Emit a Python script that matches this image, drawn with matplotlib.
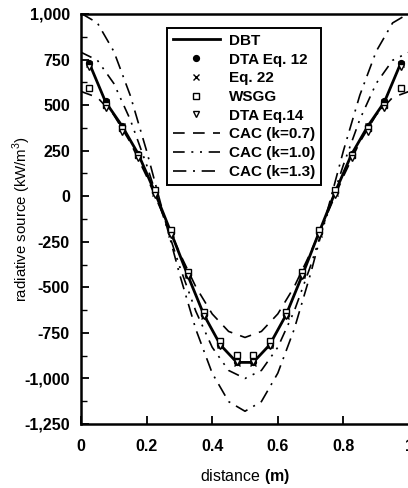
import matplotlib
matplotlib.use("Agg")
import matplotlib.pyplot as plt
from matplotlib.ticker import FixedLocator, MultipleLocator

plt.rcParams['font.family'] = ['Liberation Sans', 'DejaVu Sans']
plt.rcParams['mathtext.fontset'] = 'custom'
plt.rcParams['mathtext.rm'] = 'Liberation Sans'
plt.rcParams['mathtext.bf'] = 'Liberation Sans:bold'

# ---- data ----
x_pts = [0.025, 0.075, 0.125, 0.175, 0.225, 0.275, 0.325, 0.375, 0.425, 0.475,
         0.525, 0.575, 0.625, 0.675, 0.725, 0.775, 0.825, 0.875, 0.925, 0.975]
dbt = [731, 517, 386, 230, 23, -202, -432, -652, -816, -912,
       -912, -816, -652, -432, -202, 23, 230, 386, 517, 731]
dta12 = [731, 520, 388, 232, 25, -200, -430, -650, -815, -910,
         -910, -815, -650, -430, -200, 25, 232, 388, 520, 731]
eq22 = [725, 515, 385, 228, 20, -205, -435, -655, -818, -913,
        -913, -818, -655, -435, -205, 20, 228, 385, 515, 725]
wsgg = [594, 500, 375, 225, 36, -185, -418, -635, -795, -871,
        -871, -795, -635, -418, -185, 36, 225, 375, 500, 594]
dta14 = [709, 484, 352, 210, 7, -215, -440, -660, -820, -908,
         -908, -820, -660, -440, -215, 7, 210, 352, 484, 709]

x_cac = [0.0, 0.05, 0.1, 0.15, 0.2, 0.25, 0.3, 0.35, 0.4, 0.45, 0.5,
         0.55, 0.6, 0.65, 0.7, 0.75, 0.8, 0.85, 0.9, 0.95, 1.0]
cac07 = [575, 542, 446, 297, 109, -100, -309, -497, -646, -742, -775,
         -742, -646, -497, -309, -100, 109, 297, 446, 542, 575]
cac10 = [790, 746, 619, 421, 172, -105, -382, -631, -829, -956, -1000,
         -956, -829, -631, -382, -105, 172, 421, 619, 746, 790]
cac13 = [1004, 951, 795, 554, 249, -88, -425, -730, -971, -1127, -1180,
         -1127, -971, -730, -425, -88, 249, 554, 795, 951, 1004]

x_ticks = [0, 0.2, 0.4, 0.6, 0.8, 1.0]
x_ticklabels = ['0', '0.2', '0.4', '0.6', '0.8', '1']
y_ticks = [1000, 750, 500, 250, 0, -250, -500, -750, -1000, -1250]
y_ticklabels = ['1,000', '750', '500', '250', '0', '-250', '-500', '-750', '-1,000', '-1,250']

W, H = 408, 488
fig = plt.figure(figsize=(W / 100, H / 100), dpi=100)
fig.patch.set_facecolor('white')
ax = fig.add_axes([81 / W, (H - 424) / H, (409 - 81) / W, (424 - 14) / H])

l_dbt, = ax.plot(x_pts, dbt, color='black', lw=2.0, label='DBT', zorder=5)
l_d12, = ax.plot(x_pts, dta12, ls='none', marker='o', ms=4.2, mfc='black', mec='black',
                 label='DTA Eq. 12', zorder=6)
l_e22, = ax.plot(x_pts, eq22, ls='none', marker='x', ms=4, mew=1.0, color='black',
                 label='Eq. 22', zorder=6)
l_ws, = ax.plot(x_pts, wsgg, ls='none', marker='s', ms=4.2, mfc='white', mec='black', mew=1.0,
                label='WSGG', zorder=7)
l_d14, = ax.plot(x_pts, dta14, ls='none', marker='v', ms=4.2, mfc='white', mec='black', mew=1.0,
                 label='DTA Eq.14', zorder=7)
l_c07, = ax.plot(x_cac, cac07, color='black', lw=1.2, ls=(0, (7, 5)), label='CAC (k=0.7)')
l_c10, = ax.plot(x_cac, cac10, color='black', lw=1.2, ls=(0, (7, 4, 1.2, 4, 1.2, 4)),
                 label='CAC (k=1.0)')
l_c13, = ax.plot(x_cac, cac13, color='black', lw=1.2, ls=(0, (8, 4, 1.2, 4)),
                 label='CAC (k=1.3)')

ax.set_xlim(0, 1)
ax.set_ylim(-1250, 1000)
ax.xaxis.set_major_locator(FixedLocator(x_ticks))
ax.set_xticklabels(x_ticklabels)
ax.yaxis.set_major_locator(FixedLocator(y_ticks))
ax.set_yticklabels(y_ticklabels)
ax.yaxis.set_minor_locator(MultipleLocator(125))

for lab in ax.get_xticklabels() + ax.get_yticklabels():
    lab.set_fontweight('bold')
    lab.set_fontsize(11.5)

ax.tick_params(axis='both', which='major', direction='in', length=6, width=1.3,
               top=False, right=False)
ax.tick_params(axis='y', which='major', pad=8)
ax.tick_params(axis='x', which='major', pad=11)
ax.tick_params(axis='y', which='minor', direction='in', length=4, width=1.0, right=False)

for s in ax.spines.values():
    s.set_linewidth(1.8)

ax.set_ylabel(r'radiative source (kW/m$^{3}$)', fontsize=10.8)
ax.yaxis.set_label_coords(-0.147, 0.5)
ax.set_xlabel(r'distance $\mathbf{(m)}$', fontsize=11.5)
ax.xaxis.set_label_coords(0.5, -0.105)

leg = ax.legend(handles=[l_dbt, l_d12, l_e22, l_ws, l_d14, l_c07, l_c10, l_c13],
                loc='upper left', bbox_to_anchor=(167 / W, 1 - 28 / H),
                bbox_transform=fig.transFigure, fancybox=False, framealpha=1,
                edgecolor='black', handlelength=3.1, handletextpad=0.6,
                labelspacing=0.31, borderpad=0.38, borderaxespad=0,
                prop={'family': 'Liberation Sans', 'weight': 'bold', 'size': 11})
leg.get_frame().set_linewidth(1.4)

fig.savefig('out.png', dpi=100, facecolor='white')
